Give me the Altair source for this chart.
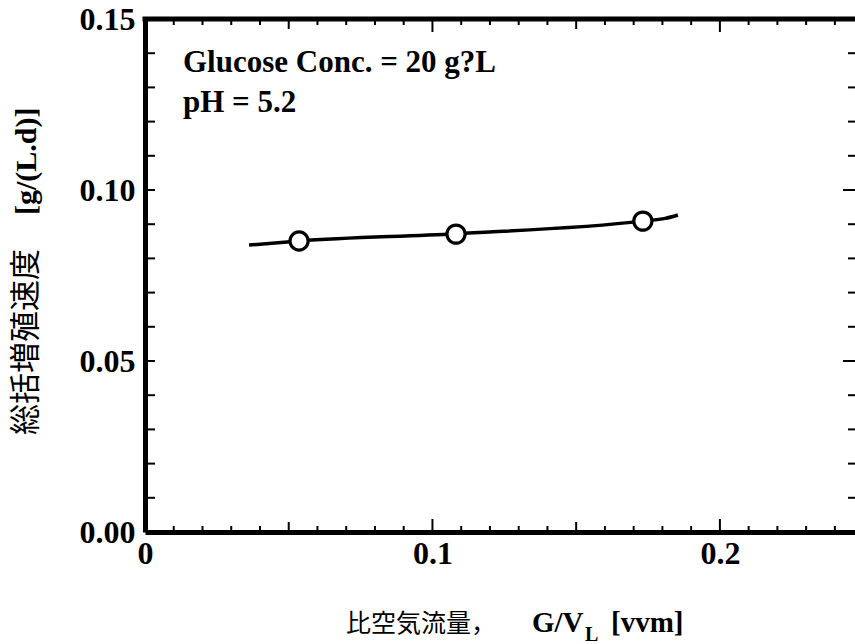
import altair as alt
import pandas as pd

# measured points
pt_x = [0.0536, 0.1082, 0.1732]
pt_y = [0.0851, 0.0871, 0.0909]
# fitted curve
cv_x = [0.0362, 0.0536, 0.1082, 0.1732, 0.1810, 0.1854]
cv_y = [0.0839, 0.0851, 0.0872, 0.0909, 0.0917, 0.0927]

x_major = [0, 0.1, 0.2]
y_major = [0, 0.05, 0.10, 0.15]
x_ticks = [round(0.01 * i, 2) for i in range(1, 25)]
y_ticks = [round(0.01 * i, 2) for i in range(1, 15)]

W, H = 710, 513
XMAX = 0.247
SERIF = "Liberation Serif"
CJK = "Noto Sans CJK JP"

xs = alt.Scale(domain=[0, XMAX], nice=False, zero=False)
ys = alt.Scale(domain=[0, 0.15], nice=False, zero=False)

pts = pd.DataFrame({"x": pt_x, "y": pt_y})
cv = pd.DataFrame({"x": cv_x, "y": cv_y})


def tick_len(v, minor, mid, major, mid_step, major_step):
    if abs(round(v / major_step) * major_step - v) < 1e-9:
        return major
    if abs(round(v / mid_step) * mid_step - v) < 1e-9:
        return mid
    return minor


xt = pd.DataFrame({"x": x_ticks})
xt["len"] = [tick_len(v, 6, 10, 13, 0.05, 0.1) for v in x_ticks]
yt = pd.DataFrame({"y": y_ticks})
yt["lenL"] = [10 for v in y_ticks]
yt["lenR"] = [tick_len(v, 7, 12, 12, 0.05, 0.05) for v in y_ticks]
xt["yb"] = H
xt["yb2"] = H - xt["len"]
xt["yt"] = 0
xt["yt2"] = xt["len"]
yt["xl"] = 0
yt["xl2"] = yt["lenL"]
yt["xr"] = W
yt["xr2"] = W - yt["lenR"]

x_axis = alt.Axis(values=x_major, labelExpr="datum.value == 0 ? '0' : format(datum.value, '.1f')",
                  title=None, grid=False, ticks=False, domainWidth=5, domainColor="black",
                  labelFont=SERIF, labelFontWeight="bold", labelFontSize=32, labelColor="black",
                  labelPadding=6, labelFlush=False)
y_axis = alt.Axis(values=y_major, format=".2f", title=None, grid=False, ticks=False,
                  domainWidth=5, domainColor="black", labelFont=SERIF, labelFontWeight="bold",
                  labelFontSize=32, labelColor="black", labelPadding=10, labelFlush=False)

line = alt.Chart(cv).mark_line(color="black", strokeWidth=3.5, interpolate="monotone").encode(
    x=alt.X("x:Q", scale=xs, axis=x_axis), y=alt.Y("y:Q", scale=ys, axis=y_axis))
points = alt.Chart(pts).mark_point(shape="circle", size=330, filled=True, fill="white",
                                   stroke="black", strokeWidth=3.2, opacity=1).encode(
    x=alt.X("x:Q", scale=xs), y=alt.Y("y:Q", scale=ys))

top_border = alt.Chart(pd.DataFrame({"a": [0]})).mark_rule(color="black", strokeWidth=5).encode(
    x=alt.value(-2.5), x2=alt.value(W + 5), y=alt.value(0))

bt = alt.Chart(xt).mark_rule(color="black", strokeWidth=2).encode(
    x=alt.X("x:Q", scale=xs), y=alt.Y("yb:Q", scale=None), y2="yb2:Q")
tt = alt.Chart(xt).mark_rule(color="black", strokeWidth=2).encode(
    x=alt.X("x:Q", scale=xs), y=alt.Y("yt:Q", scale=None), y2="yt2:Q")
lt = alt.Chart(yt).mark_rule(color="black", strokeWidth=2).encode(
    y=alt.Y("y:Q", scale=ys), x=alt.X("xl:Q", scale=None), x2="xl2:Q")
rt = alt.Chart(yt).mark_rule(color="black", strokeWidth=2).encode(
    y=alt.Y("y:Q", scale=ys), x=alt.X("xr:Q", scale=None), x2="xr2:Q")

ann_text = ["Glucose Conc. = 20 g?L", "pH = 5.2"]
ann = pd.DataFrame({"t": ann_text, "yy": [53, 93]})
annotation = alt.Chart(ann).mark_text(font=SERIF, fontWeight="bold", fontSize=31, align="left",
                                      baseline="alphabetic", color="black").encode(
    x=alt.value(38), y=alt.Y("yy:Q", scale=None), text="t:N")

one = pd.DataFrame({"a": [0]})
def label(txt, x, y, font, size, weight="normal", angle=0, baseline="alphabetic"):
    kw = dict(text=txt, font=font, fontSize=size, align="left", baseline=baseline, color="black")
    if weight != "normal":
        kw["fontWeight"] = weight
    if angle:
        kw["angle"] = angle
    return alt.Chart(one).mark_text(**kw).encode(x=alt.value(x), y=alt.value(y))

xt1 = label("比空気流量，", 201, 613, CJK, 25)
xt2 = label("G/V", 387, 613, SERIF, 29, "bold")
xt3 = label("L", 440, 622, SERIF, 20, "bold")
xt4 = label("[vvm]", 466, 613, SERIF, 29, "bold")
yt1 = label("総括増殖速度", -118, 416, CJK, 31, angle=270, baseline="middle")
yt2 = label("[g/(L.d)]", -118, 196, SERIF, 30, "bold", angle=270, baseline="middle")

chart = alt.layer(line, points, top_border, bt, tt, lt, rt, annotation,
                  xt1, xt2, xt3, xt4, yt1, yt2).properties(
    width=W, height=H, autosize=alt.AutoSizeParams(type="none"),
    padding={"left": 145, "top": 19, "right": 0, "bottom": 112},
    background="white").configure_view(strokeWidth=0)

chart.save("out.html", embed_options={"renderer": "svg", "actions": False})
